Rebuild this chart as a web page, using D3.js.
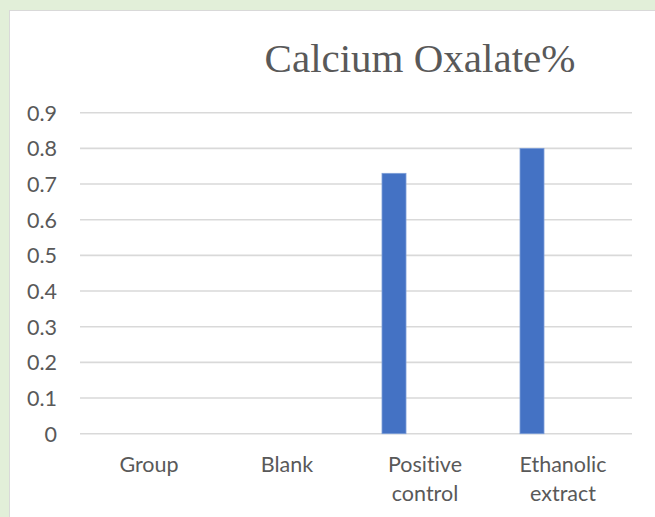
<!DOCTYPE html>
<html><head><meta charset="utf-8">
<script src="https://cdn.jsdelivr.net/npm/d3@7"></script>
<style>
html,body{margin:0;padding:0;background:#e2efd9;}
svg{display:block;}
text{font-variant-ligatures:none;font-feature-settings:"liga" 0;}
</style></head>
<body>
<script>
const title = "Calcium Oxalate%";
const categories = ["Group", "Blank", "Positive control", "Ethanolic extract"];
const seriesNames = ["Series1", "Series2", "Series3"];
const series1 = [null, null, 0.73, 0.80];
const yTicks = [0, 0.1, 0.2, 0.3, 0.4, 0.5, 0.6, 0.7, 0.8, 0.9];

const W = 655, H = 517;
const svg = d3.select("body").append("svg").attr("width", W).attr("height", H);

svg.append("rect").attr("x", 0).attr("y", 0).attr("width", W).attr("height", H).attr("fill", "#e2efd9");
svg.append("rect").attr("x", 9.5).attr("y", 10.5).attr("width", W).attr("height", H)
  .attr("fill", "#ffffff").attr("stroke", "#d9d9d9").attr("stroke-width", 1);

const plot = {left: 80, right: 632, top: 112.7, bottom: 433.7};

const x = d3.scaleBand().domain(categories).range([plot.left, plot.right]).padding(0);
const xs = d3.scaleBand().domain(seriesNames).range([0, x.bandwidth()])
  .paddingInner(0).paddingOuter(1.375).align(0.394);
const y = d3.scaleLinear().domain([0, 0.9]).range([plot.bottom, plot.top]);

const font = "Lato, 'Open Sans', sans-serif";
const fs = 21.5;

// gridlines
svg.append("g").selectAll("line").data(yTicks).join("line")
  .attr("x1", plot.left).attr("x2", plot.right)
  .attr("y1", d => y(d)).attr("y2", d => y(d))
  .attr("stroke", "#d9d9d9").attr("stroke-width", 1.6);

// y axis labels
const yAxis = d3.axisLeft(y).tickValues(yTicks).tickSize(0).tickPadding(0)
  .tickFormat(d => d === 0 ? "0" : d3.format(".1f")(d));
const gy = svg.append("g").attr("transform", `translate(57,0)`).call(yAxis);
gy.select(".domain").remove();
gy.selectAll("text").attr("font-family", font).attr("font-size", fs)
  .attr("fill", "#595959").attr("dy", "0.35em");

// bars
const data = categories.map((c, i) => ({cat: c, v: series1[i]})).filter(d => d.v != null);
svg.append("g").selectAll("rect").data(data).join("rect")
  .attr("x", d => x(d.cat) + xs("Series1"))
  .attr("width", xs.bandwidth())
  .attr("y", d => y(d.v))
  .attr("height", d => y(0) - y(d.v))
  .attr("fill", "#4472c4")
  .attr("stroke", "#7e9ed8").attr("stroke-width", 0.8);

// x axis labels
const xAxis = d3.axisBottom(x).tickSize(0).tickPadding(0);
const gx = svg.append("g").attr("transform", `translate(0,${plot.bottom})`).call(xAxis);
gx.select(".domain").remove();
gx.selectAll("text").each(function(d) {
  const t = d3.select(this);
  t.text(null).attr("font-family", font).attr("font-size", fs).attr("fill", "#595959")
    .attr("y", 0).attr("dy", null);
  const words = d.split(" ");
  words.forEach((w, i) => {
    t.append("tspan").attr("x", 0).attr("y", 38.5 + i * 29).text(w);
  });
});

// title
svg.append("text").attr("x", 420).attr("y", 72).attr("text-anchor", "middle")
  .attr("font-family", "'Liberation Serif', 'Times New Roman', serif")
  .attr("font-size", 41).attr("fill", "#595959").text(title);
</script>
</body></html>
